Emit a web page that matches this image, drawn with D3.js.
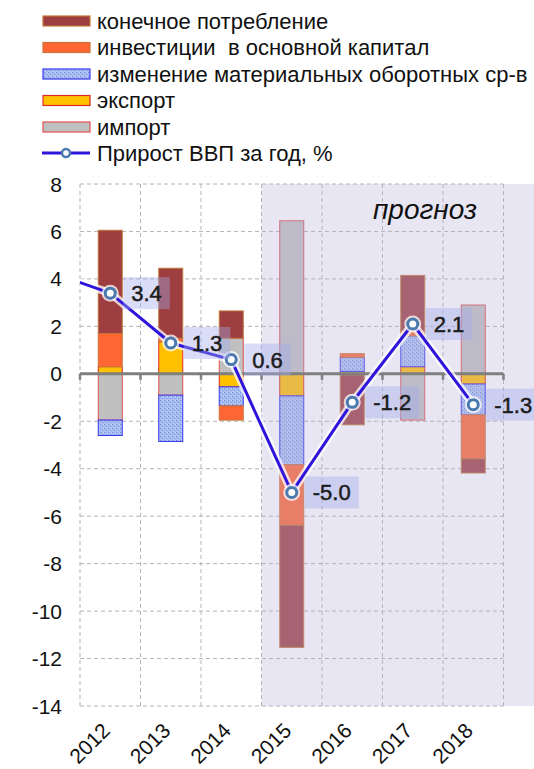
<!DOCTYPE html>
<html>
<head>
<meta charset="utf-8">
<script src="https://cdn.jsdelivr.net/npm/d3@7"></script>
<style>
html,body{margin:0;padding:0;background:#fff;}
svg{display:block;font-family:Arial,"Liberation Sans",sans-serif;}
</style>
</head>
<body>
<svg id="chart" width="534" height="769"></svg>
<script>
// ---- data ----
const years = [2012, 2013, 2014, 2015, 2016, 2017, 2018];
const yearLabels = ["2012", "2013", "2014", "2015", "2016", "2017", "2018"];
const consumption = [4.35, 2.95, 1.15, -5.15, -2.1, 2.35, -0.6];
const investment  = [1.4, 0.15, -0.6, -2.55, 0.15, 0.2, -1.85];
const inventories = [-0.65, -1.95, -0.8, -2.9, 0.6, 1.3, -1.3];
const exports     = [0.3, 1.35, -0.55, -0.93, 0.1, 0.3, -0.43];
const imports     = [-1.95, -0.9, 1.5, 6.45, -0.05, -1.95, 2.9];
const gdpYears    = [2011, 2012, 2013, 2014, 2015, 2016, 2017, 2018];
const gdpGrowth   = [4.3, 3.4, 1.3, 0.6, -5.0, -1.2, 2.1, -1.3];
const yTicks = [8, 6, 4, 2, 0, -2, -4, -6, -8, -10, -12, -14];
const forecastFrom = 2015;
const forecastLabel = "прогноз";
const seriesNames = ["конечное потребление", "инвестиции  в основной капитал",
  "изменение материальных оборотных ср-в", "экспорт", "импорт", "Прирост ВВП за год, %"];

// ---- setup ----
const svg = d3.select("#chart");
const plotL = 80, plotR = 503.5, plotT = 184, plotB = 706, shadeR = 534;
const x = d3.scaleLinear().domain([years[0] - 0.5, years[years.length - 1] + 0.5]).range([plotL, plotR]);
const y = d3.scaleLinear().domain([-14, 8]).range([plotB, plotT]);
const barW = 24;

const defs = svg.append("defs");
const pat = defs.append("pattern").attr("id", "dots").attr("width", 4).attr("height", 4)
  .attr("patternUnits", "userSpaceOnUse");
pat.append("rect").attr("width", 4).attr("height", 4).attr("fill", "#a6bcf0");
pat.append("rect").attr("x", 0).attr("y", 0).attr("width", 1).attr("height", 1).attr("fill", "#6a88dc");
pat.append("rect").attr("x", 2).attr("y", 2).attr("width", 1).attr("height", 1).attr("fill", "#7f9ae4");
pat.append("rect").attr("x", 3).attr("y", 0).attr("width", 1).attr("height", 1).attr("fill", "#c4d2f6");
pat.append("rect").attr("x", 1).attr("y", 3).attr("width", 1).attr("height", 1).attr("fill", "#c4d2f6");

defs.append("clipPath").attr("id", "plotClip").append("rect")
  .attr("x", plotL).attr("y", plotT - 10).attr("width", shadeR - plotL).attr("height", plotB - plotT + 20);

const styles = {
  consumption: {fill: "#9e3e40", stroke: "#c0773a"},
  investment:  {fill: "#ff6633", stroke: "#c8743a"},
  inventories: {fill: "url(#dots)", stroke: "#3535f0"},
  exports:     {fill: "#ffc000", stroke: "#d92a2a"},
  imports:     {fill: "#c0c0c0", stroke: "#e05050"}
};

// ---- grid ----
const grid = svg.append("g").attr("stroke", "#b4b4b4").attr("stroke-width", 1).attr("stroke-dasharray", "4,3");
grid.selectAll("line.h").data(yTicks).join("line")
  .attr("x1", plotL).attr("x2", plotR).attr("y1", d => y(d)).attr("y2", d => y(d));
const bounds = d3.range(years.length + 1).map(i => years[0] - 0.5 + i);
grid.selectAll("line.v").data(bounds).join("line")
  .attr("x1", d => x(d)).attr("x2", d => x(d)).attr("y1", plotT).attr("y2", plotB);

// ---- bars ----
const keys = ["exports", "imports", "inventories", "investment", "consumption"];
const src = {exports, imports, inventories, investment, consumption};
const table = years.map((yr, i) => {
  const row = {year: yr};
  keys.forEach(k => row[k] = src[k][i]);
  return row;
});
const stack = d3.stack().keys(keys).offset(d3.stackOffsetDiverging);
const stacked = stack(table);
const barsG = svg.append("g");
stacked.forEach(s => {
  barsG.append("g").selectAll("rect").data(s).join("rect")
    .attr("x", d => x(d.data.year) - barW / 2)
    .attr("width", barW)
    .attr("y", d => y(Math.max(d[0], d[1])))
    .attr("height", d => Math.abs(y(d[0]) - y(d[1])))
    .attr("fill", styles[s.key].fill)
    .attr("stroke", styles[s.key].stroke)
    .attr("stroke-width", 1);
});

// ---- forecast shading ----
svg.append("rect")
  .attr("x", x(forecastFrom - 0.5)).attr("y", plotT)
  .attr("width", shadeR - x(forecastFrom - 0.5)).attr("height", plotB - plotT)
  .attr("fill", "rgb(188,178,218)").attr("fill-opacity", 0.32);

// ---- zero axis ----
const ax = svg.append("g").attr("stroke", "#7f7f7f").attr("stroke-width", 3);
ax.append("line").attr("x1", plotL).attr("x2", plotR).attr("y1", y(0)).attr("y2", y(0));
ax.selectAll("line.t").data(bounds).join("line")
  .attr("x1", d => x(d)).attr("x2", d => x(d)).attr("y1", y(0)).attr("y2", y(0) + 6)
  .attr("stroke-width", 2.5);

// ---- y tick labels ----
svg.append("g").selectAll("text").data(yTicks).join("text")
  .attr("x", 62).attr("y", d => y(d)).attr("dy", "0.36em")
  .attr("text-anchor", "end").attr("font-size", 21).attr("fill", "#111")
  .text(d => d);

// ---- x tick labels ----
svg.append("g").selectAll("text").data(years).join("text")
  .attr("transform", (d) => `translate(${x(d) + 1},${732}) rotate(-45)`)
  .attr("text-anchor", "end").attr("font-size", 21).attr("fill", "#111")
  .text((d, i) => yearLabels[i]);

// ---- forecast label ----
svg.append("text").attr("x", 477).attr("y", 219).attr("text-anchor", "end")
  .attr("font-size", 28).attr("font-style", "italic").attr("fill", "#111")
  .text(forecastLabel);

// ---- GDP line ----
const pts = gdpYears.map((yr, i) => ({year: yr, v: gdpGrowth[i]}));
const line = d3.line().x(d => x(d.year)).y(d => y(d.v));
const lg = svg.append("g").attr("clip-path", "url(#plotClip)");
lg.append("path").datum(pts).attr("d", line).attr("fill", "none")
  .attr("stroke", "#fff").attr("stroke-opacity", 0.75).attr("stroke-width", 8).attr("stroke-linejoin", "round");
lg.append("path").datum(pts).attr("d", line).attr("fill", "none")
  .attr("stroke", "#2f14dc").attr("stroke-width", 3).attr("stroke-linejoin", "round");
const shown = pts.filter(d => d.year >= years[0]);
svg.append("g").selectAll("circle").data(shown).join("circle")
  .attr("cx", d => x(d.year)).attr("cy", d => y(d.v)).attr("r", 8.5)
  .attr("fill", "#fff").attr("fill-opacity", 0.75);
svg.append("g").selectAll("circle").data(shown).join("circle")
  .attr("cx", d => x(d.year)).attr("cy", d => y(d.v)).attr("r", 5)
  .attr("fill", "#fff").attr("stroke", "#4a7aae").attr("stroke-width", 3);

// ---- data labels ----
const lblG = svg.append("g");
shown.forEach(d => {
  const px = x(d.year), py = y(d.v);
  const g = lblG.append("g");
  const t = g.append("text").attr("x", px + 21).attr("y", py).attr("dy", "0.36em")
    .attr("font-size", 22).attr("fill", "#1c1c1c")
    .attr("stroke", "#1c1c1c").attr("stroke-width", 0.5).text(d.v.toFixed(1));
  const w = t.node().getComputedTextLength();
  g.insert("rect", "text").attr("x", px + 13).attr("y", py - 16)
    .attr("width", w + 16).attr("height", 32)
    .attr("fill", "rgb(160,170,235)").attr("fill-opacity", 0.4);
});

// ---- legend ----
const leg = svg.append("g");
const legRows = [21, 47.5, 74, 100.5, 127, 153];
const legStyles = [styles.consumption, styles.investment, styles.inventories, styles.exports, styles.imports];
legStyles.forEach((s, i) => {
  leg.append("rect").attr("x", 43).attr("y", legRows[i] - 5).attr("width", 47).attr("height", 10)
    .attr("fill", s.fill).attr("stroke", s.stroke).attr("stroke-width", 1.2);
});
leg.append("line").attr("x1", 42).attr("x2", 90).attr("y1", legRows[5]).attr("y2", legRows[5])
  .attr("stroke", "#2f14dc").attr("stroke-width", 3);
leg.append("circle").attr("cx", 66).attr("cy", legRows[5]).attr("r", 4)
  .attr("fill", "#fff").attr("stroke", "#4a7aae").attr("stroke-width", 2.5);
seriesNames.forEach((n, i) => {
  leg.append("text").attr("x", 97).attr("y", legRows[i]).attr("dy", "0.36em")
    .attr("font-size", 22).attr("fill", "#111").attr("xml:space", "preserve")
    .style("white-space", "pre").text(n);
});
</script>
</body>
</html>
